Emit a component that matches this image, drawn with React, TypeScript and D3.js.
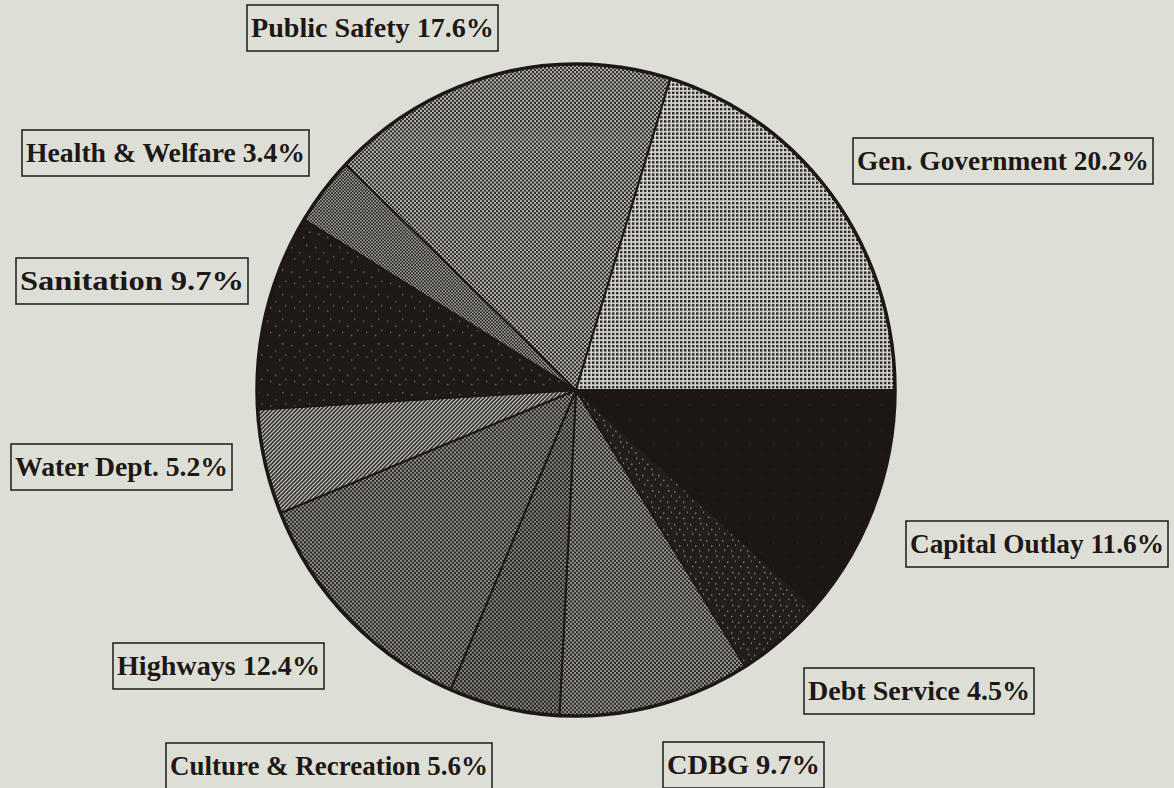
import React, { useEffect, useRef } from 'react';
import * as d3 from 'd3';

// slices in drawing order, clockwise from 3 o'clock
const categories = [
    'Capital Outlay',
    'Debt Service',
    'CDBG',
    'Culture & Recreation',
    'Highways',
    'Water Dept.',
    'Sanitation',
    'Health & Welfare',
    'Public Safety',
    'Gen. Government'
];
const percents = [11.6, 4.5, 9.7, 5.6, 12.4, 5.2, 9.7, 3.4, 17.6, 20.2];

// label boxes: left, top, width
const labelBoxes = [
    [906, 521, 262],
    [804, 668, 230],
    [663, 742, 161],
    [166, 743, 326],
    [113, 643, 211],
    [11, 444, 221],
    [16, 258, 232],
    [22, 130, 287],
    [247, 5, 251],
    [853, 138, 300]
];

const fillIds = ['capital', 'debt', 'cdbg', 'culture', 'highways', 'water', 'sanitation', 'health', 'public', 'gen'];

const W = 1174, H = 788;
const BG = '#dddfd6';
const INK = '#1d1815';

export default function App() {
    const svgRef = useRef(null);

    useEffect(() => {
        const svg = d3.select(svgRef.current);
        svg.selectAll('*').remove();

        svg.append('rect').attr('width', W).attr('height', H).attr('fill', BG);

        const defs = svg.append('defs');

        // dark dots on light ground
        const darkDots = (id, period, size, bg, ink) => {
            const p = defs.append('pattern').attr('id', id).attr('patternUnits', 'userSpaceOnUse')
                .attr('width', period).attr('height', period);
            p.append('rect').attr('width', period).attr('height', period).attr('fill', bg);
            p.append('rect').attr('width', size).attr('height', size).attr('fill', ink);
        };
        // checker board
        const checker = (id, cell, dark, light) => {
            const p = defs.append('pattern').attr('id', id).attr('patternUnits', 'userSpaceOnUse')
                .attr('width', cell * 2).attr('height', cell * 2);
            p.append('rect').attr('width', cell * 2).attr('height', cell * 2).attr('fill', light);
            p.append('rect').attr('width', cell).attr('height', cell).attr('fill', dark);
            p.append('rect').attr('x', cell).attr('y', cell).attr('width', cell).attr('height', cell).attr('fill', dark);
        };
        // light specks on dark ground
        const specks = (id, bg, speck, pts, size) => {
            const p = defs.append('pattern').attr('id', id).attr('patternUnits', 'userSpaceOnUse')
                .attr('width', size).attr('height', size);
            p.append('rect').attr('width', size).attr('height', size).attr('fill', bg);
            pts.forEach(([x, y]) => {
                p.append('rect').attr('x', x).attr('y', y).attr('width', 1.4).attr('height', 1.4).attr('fill', speck);
            });
        };

        darkDots('gen', 4, 2.4, '#d0d1c8', '#302c29');
        checker('public', 2, '#2a2623', '#b8b9b0');
        checker('health', 1.6, '#25211e', '#9e9f97');
        specks('sanitation', '#1f1a17', '#6b6864', [[3, 4], [11, 9], [18, 2], [6, 15], [15, 18], [21, 13]], 24);
        checker('highways', 2, '#282421', '#8f9089');
        checker('culture', 2, '#24201d', '#85867f');
        checker('cdbg', 2, '#282421', '#979891');
        specks('debt', '#231e1b', '#8a8782', [[2, 3], [7, 8], [12, 2], [4, 12], [11, 13], [15, 7]], 16);
        specks('capital', '#1c1714', '#2c2825', [[5, 5], [17, 14]], 24);

        const hatch = defs.append('pattern').attr('id', 'water').attr('patternUnits', 'userSpaceOnUse')
            .attr('width', 4).attr('height', 4);
        hatch.append('rect').attr('width', 4).attr('height', 4).attr('fill', '#cfd0c7');
        hatch.append('path').attr('d', 'M-1,1 L1,-1 M0,4 L4,0 M3,5 L5,3')
            .attr('stroke', '#2e2a27').attr('stroke-width', 1.6);

        const pie = d3.pie()
            .value((d) => d)
            .sort(null)
            .startAngle(Math.PI / 2)
            .endAngle(Math.PI / 2 + Math.PI * 2);

        const rx = 319;
        const arc = d3.arc().innerRadius(0).outerRadius(rx);

        const g = svg.append('g')
            .attr('transform', 'translate(576,390) scale(1,1.022)');

        g.selectAll('.slice')
            .data(pie(percents))
            .enter().append('path')
            .attr('class', 'slice')
            .attr('d', arc)
            .attr('fill', (d, i) => 'url(#' + fillIds[i] + ')')
            .attr('stroke', INK)
            .attr('stroke-width', 2)
            .attr('stroke-linejoin', 'round');

        g.append('circle')
            .attr('r', rx)
            .attr('fill', 'none')
            .attr('stroke', INK)
            .attr('stroke-width', 3.5);

        // labels in boxes
        const labels = svg.selectAll('.label')
            .data(categories)
            .enter().append('g')
            .attr('class', 'label')
            .attr('transform', (d, i) => 'translate(' + labelBoxes[i][0] + ',' + labelBoxes[i][1] + ')');

        labels.append('rect')
            .attr('width', (d, i) => labelBoxes[i][2])
            .attr('height', 46)
            .attr('fill', 'none')
            .attr('stroke', '#2a2624')
            .attr('stroke-width', 1.6);

        labels.append('text')
            .attr('x', 4)
            .attr('y', 32)
            .attr('font-family', '"Liberation Serif", "DejaVu Serif", serif')
            .attr('font-weight', 'bold')
            .attr('font-size', 27)
            .attr('fill', INK)
            .attr('textLength', (d, i) => labelBoxes[i][2] - 8)
            .attr('lengthAdjust', 'spacingAndGlyphs')
            .text((d, i) => d + ' ' + percents[i].toFixed(1) + '%');
    }, []);

    return (
        <svg ref={svgRef} width={W} height={H}
            style={{ position: 'absolute', left: 0, top: 0, display: 'block' }}></svg>
    );
}
